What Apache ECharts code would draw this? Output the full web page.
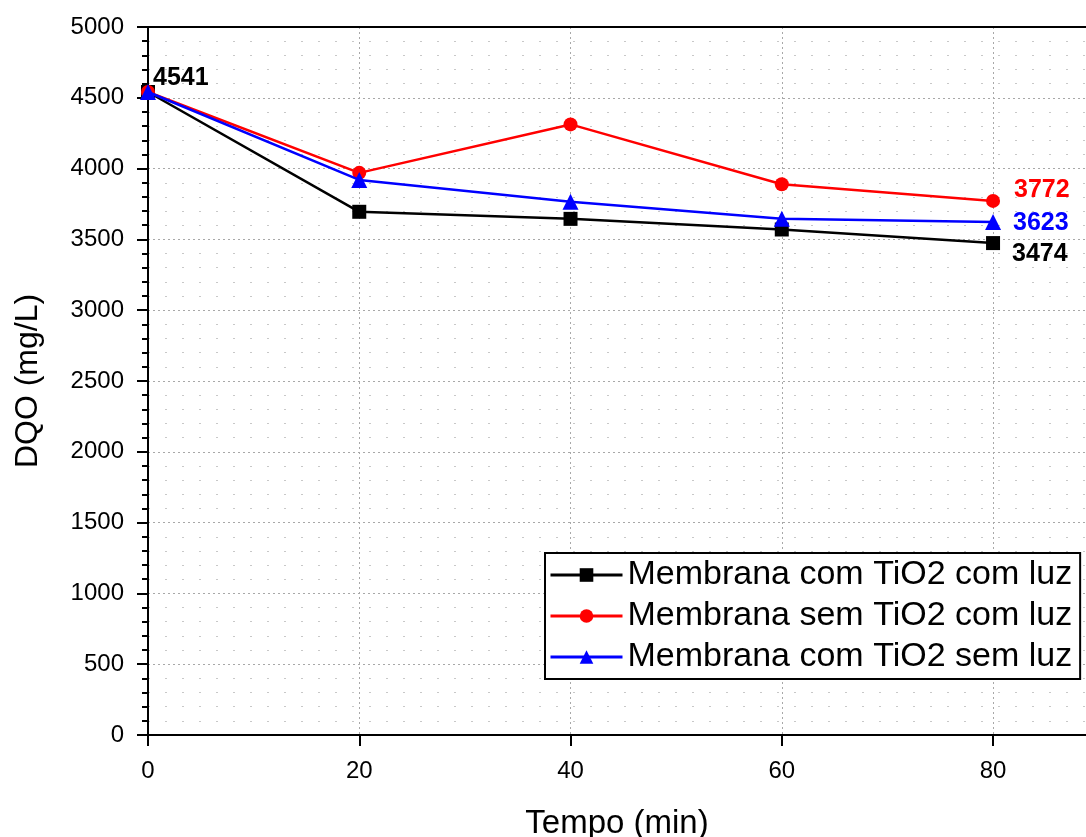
<!DOCTYPE html>
<html>
<head>
<meta charset="utf-8">
<script src="https://cdn.jsdelivr.net/npm/echarts@6/dist/echarts.min.js"></script>
<style>
  html, body { margin: 0; padding: 0; background: #fff; }
  #chart { width: 1086px; height: 837px; }
</style>
</head>
<body>
<div id="chart"></div>
<script>
// dados
const tempo = [0, 20, 40, 60, 80];
const comTiO2ComLuz = [4541, 3695, 3645, 3570, 3474];
const semTiO2ComLuz = [4541, 3970, 4312, 3890, 3772];
const comTiO2SemLuz = [4541, 3920, 3766, 3645, 3623];
const seriesNames = ['Membrana com TiO2 com luz', 'Membrana sem TiO2 com luz', 'Membrana com TiO2 sem luz'];

const font = 'Liberation Sans, Arial, sans-serif';

// monta os pontos, com rótulo só onde o gráfico original mostra valor
function buildData(values, color, labels) {
  return values.map((v, i) => {
    let item = { value: [tempo[i], v] };
    if (labels[i]) {
      item.label = {
        show: true,
        position: 'right',
        distance: 8,
        offset: labels[i],
        color: color,
        fontWeight: 'bold',
        fontSize: 25,
        fontFamily: font,
        formatter: String(v),
      };
    }
    return item;
  });
}

function lineSeries(name, values, color, symbol, size, labels) {
  return {
    name: name,
    type: 'line',
    symbol: symbol,
    symbolSize: size,
    lineStyle: { color: color, width: 2.5 },
    itemStyle: { color: color },
    data: buildData(values, color, labels),
    z: symbol === 'triangle' ? 4 : 3,
  };
}

let chart = echarts.init(document.getElementById('chart'));
let option = {
  animation: false,
  grid: {
    left: 148,
    top: 27,
    right: 0,
    bottom: 102,
    outerBoundsMode: 'none',
  },
  legend: {
    data: seriesNames,
    orient: 'vertical',
    left: 545,
    top: 553,
    itemWidth: 72,
    itemHeight: 17,
    itemGap: 7,
    padding: [5, 8, 5, 4],
    backgroundColor: '#fff',
    borderColor: '#000',
    borderWidth: 2,
    lineStyle: { width: 3 },
    textStyle: { fontSize: 34, color: '#000', fontFamily: font },
  },
  xAxis: [
    {
      type: 'value',
      min: 0,
      max: 88.8,
      interval: 20,
      name: 'Tempo (min)',
      nameLocation: 'middle',
      nameGap: 72,
      nameTextStyle: { fontSize: 33, color: '#000', fontFamily: font },
      axisLine: { show: true, lineStyle: { color: '#000', width: 2 } },
      axisTick: { show: true, inside: false, length: 11, customValues: tempo, lineStyle: { color: '#000', width: 2 } },
      axisLabel: {
        fontSize: 24, color: '#000', fontFamily: font, margin: 24, customValues: tempo,
        formatter: v => String(v),
      },
      splitLine: { show: true, lineStyle: { color: '#a8a8a8', type: [2, 3], width: 1 } },
    },
    {
      // linha superior do quadro
      type: 'value',
      position: 'top',
      min: 0,
      max: 88.8,
      interval: 20,
      axisLine: { show: true, lineStyle: { color: '#000', width: 2 } },
      axisTick: { show: false },
      axisLabel: { show: false },
      splitLine: { show: false },
    },
  ],
  yAxis: {
    type: 'value',
    min: 0,
    max: 5000,
    interval: 500,
    name: 'DQO (mg/L)',
    nameLocation: 'middle',
    nameGap: 104,
    nameTextStyle: { fontSize: 32, color: '#000', fontFamily: font },
    axisLine: { show: true, lineStyle: { color: '#000', width: 2 } },
    axisTick: { show: true, inside: false, length: 11, lineStyle: { color: '#000', width: 2 } },
    minorTick: { show: true, splitNumber: 5, length: 6, lineStyle: { color: '#000', width: 2 } },
    axisLabel: { fontSize: 24, color: '#000', fontFamily: font, margin: 24, formatter: v => String(v) },
    splitLine: { show: true, lineStyle: { color: '#a8a8a8', type: [2, 3], width: 1 } },
    minorSplitLine: { show: true, lineStyle: { color: '#c8c8c8', type: [2, 15], width: 1 } },
  },
  series: [
    lineSeries(seriesNames[0], comTiO2ComLuz, '#000000', 'rect', 14, [[-10, -14], null, null, null, [4, 11]]),
    lineSeries(seriesNames[1], semTiO2ComLuz, '#ff0000', 'circle', 14, [null, null, null, null, [6, -11]]),
    lineSeries(seriesNames[2], comTiO2SemLuz, '#0000ff', 'triangle', 16, [null, null, null, null, [4, 1]]),
  ],
};
chart.setOption(option);
</script>
</body>
</html>
